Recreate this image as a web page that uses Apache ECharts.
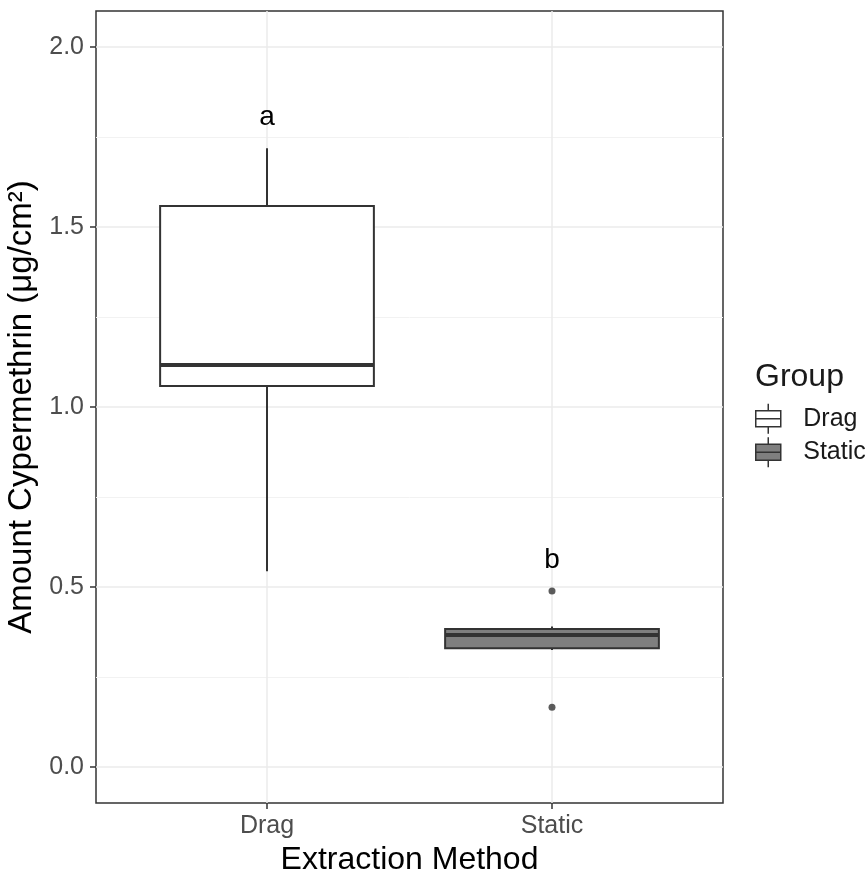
<!DOCTYPE html>
<html><head><meta charset="utf-8">
<script src="https://cdn.jsdelivr.net/npm/echarts@6/dist/echarts.min.js"></script>
<style>html,body{margin:0;padding:0;background:#fff}#c{width:868px;height:873px}</style>
</head><body><div id="c"></div>
<script>
const categories = ['Drag', 'Static'];
// [lower whisker, Q1, median, Q3, upper whisker]
const dragStats = [0.544, 1.058, 1.117, 1.558, 1.719];
const staticStats = [0.325, 0.330, 0.367, 0.383, 0.390];
const staticOutliers = [0.489, 0.166];
const letterLabels = ['a', 'b'];
const letterY = [1.805, 0.573];
const yTicks = [0, 0.5, 1, 1.5, 2];
const yMinorTicks = [0.25, 0.75, 1.25, 1.75];
const xTicks = [1, 2];

const FONT = 'Liberation Sans, Arial, sans-serif';
const keyPath = 'path://M12.5,0L12.5,7M0,7L25,7L25,23L0,23ZM0,15L25,15M12.5,23L12.5,30';

function renderBox(params, api) {
  const x = api.value(0);
  const vals = [1, 2, 3, 4, 5].map(i => api.value(i));
  const half = api.size([0.75, 0])[0] / 2;
  const p = vals.map(v => api.coord([x, v]));
  const cx = p[0][0];
  const ls = { stroke: '#333333', lineWidth: 2 };
  return {
    type: 'group',
    children: [
      { type: 'line', shape: { x1: cx, y1: p[4][1], x2: cx, y2: p[3][1] }, style: ls },
      { type: 'line', shape: { x1: cx, y1: p[1][1], x2: cx, y2: p[0][1] }, style: ls },
      { type: 'rect', shape: { x: cx - half, y: p[3][1], width: 2 * half, height: p[1][1] - p[3][1] },
        style: { fill: api.visual('color'), stroke: '#333333', lineWidth: 2 } },
      { type: 'line', shape: { x1: cx - half, y1: p[2][1], x2: cx + half, y2: p[2][1] },
        style: { stroke: '#333333', lineWidth: 4 } }
    ]
  };
}

const chart = echarts.init(document.getElementById('c'));
chart.setOption({
  animation: false,
  backgroundColor: '#ffffff',
  textStyle: { fontFamily: FONT },
  title: {
    text: 'Group', left: 750, top: 356,
    textStyle: { fontSize: 32, fontWeight: 'normal', color: '#1a1a1a', fontFamily: FONT }
  },
  legend: {
    data: [
      { name: 'Drag', icon: keyPath, itemStyle: { color: '#ffffff', borderColor: '#333333', borderWidth: 1.5 } },
      { name: 'Static', icon: keyPath, itemStyle: { color: '#7f7f7f', borderColor: '#333333', borderWidth: 1.5 } }
    ],
    orient: 'vertical', left: 750, top: 398,
    itemWidth: 26, itemHeight: 30, itemGap: 2,
    selectedMode: false,
    textStyle: { fontSize: 25, color: '#1a1a1a', fontFamily: FONT, padding: [4, 0, 0, 17] }
  },
  grid: {
    left: 96, right: 145, top: 11, bottom: 70,
    outerBoundsMode: 'none', containLabel: false,
    show: true, borderColor: '#333333', borderWidth: 1.5, backgroundColor: 'transparent'
  },
  xAxis: {
    type: 'value', min: 0.4, max: 2.6, position: 'bottom',
    name: 'Extraction Method', nameLocation: 'middle', nameGap: 41,
    nameTextStyle: { fontSize: 32, color: '#000000', fontFamily: FONT },
    axisLine: { show: false, onZero: false },
    axisTick: { show: true, customValues: xTicks, length: 6, lineStyle: { color: '#333333', width: 1.5 } },
    axisLabel: { customValues: xTicks, fontSize: 25, color: '#4d4d4d', margin: 11,
      formatter: v => categories[Math.round(v) - 1] || '' },
    splitLine: { show: true, lineStyle: { color: '#ebebeb', width: 1.5 } }
  },
  yAxis: [{
    type: 'value', min: -0.1, max: 2.1,
    name: 'Amount Cypermethrin (μg/cm²)', nameLocation: 'middle', nameGap: 43,
    nameTextStyle: { fontSize: 33, color: '#000000', fontFamily: FONT },
    axisLine: { show: false, onZero: false },
    axisTick: { show: true, customValues: yTicks, length: 6, lineStyle: { color: '#333333', width: 1.5 } },
    axisLabel: { customValues: yTicks, fontSize: 25, color: '#4d4d4d', margin: 12,
      formatter: v => v.toFixed(1) },
    splitLine: { show: true, lineStyle: { color: '#ebebeb', width: 1.5 } }
  }, {
    type: 'value', min: -0.1, max: 2.1, position: 'left',
    axisLine: { show: false, onZero: false },
    axisTick: { show: false, customValues: yMinorTicks },
    axisLabel: { show: false, customValues: yMinorTicks },
    splitLine: { show: true, lineStyle: { color: '#f2f2f2', width: 1 } }
  }],
  series: [
    { name: 'Drag', type: 'custom', renderItem: renderBox, itemStyle: { color: '#ffffff', borderColor: '#333333' },
      encode: { x: 0, y: [1, 2, 3, 4, 5] }, data: [[1].concat(dragStats)], z: 3 },
    { name: 'Static', type: 'custom', renderItem: renderBox, itemStyle: { color: '#7f7f7f', borderColor: '#333333' },
      encode: { x: 0, y: [1, 2, 3, 4, 5] }, data: [[2].concat(staticStats)], z: 3 },
    { name: 'outliers', type: 'scatter', symbolSize: 7, itemStyle: { color: '#333333' },
      data: staticOutliers.map(v => [2, v]), z: 4 },
    { name: 'letters', type: 'scatter', symbolSize: 0, itemStyle: { opacity: 0 },
      data: letterLabels.map((t, i) => [i + 1, letterY[i], t]),
      label: { show: true, position: 'inside', formatter: p => p.data[2], fontSize: 28,
        color: '#000000', opacity: 1, textBorderWidth: 0, fontFamily: FONT },
      z: 5 }
  ]
});
</script></body></html>
